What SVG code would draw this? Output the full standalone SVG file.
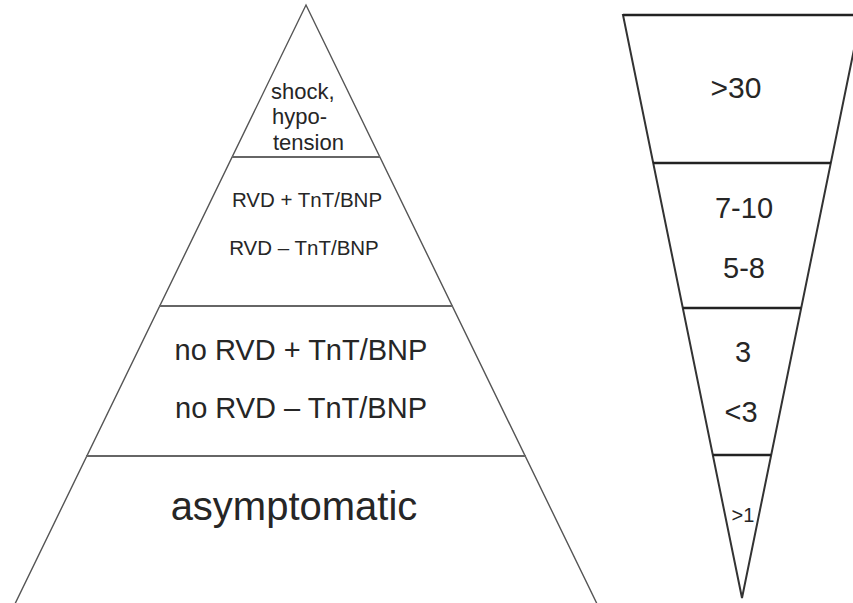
<svg xmlns="http://www.w3.org/2000/svg" width="853" height="603" viewBox="0 0 853 603">
<style>
.outline{fill:none;stroke:#555;stroke-width:1.4;stroke-linejoin:miter}
.sep{stroke:#666;stroke-width:2.2;fill:none}
.outline2{fill:none;stroke:#333;stroke-width:2}
.sep2{stroke:#222;stroke-width:2.4;fill:none}
text{font-family:"Liberation Sans",Arial,Helvetica,sans-serif;fill:#262626}
.m{text-anchor:middle}
</style>
<rect width="853" height="603" fill="#fff"/>
<g id="pyramid-left">
<polyline class="outline" points="12,610 306,5 600,610"/>
<line class="sep" x1="232" y1="157" x2="380" y2="157"/>
<line class="sep" x1="159" y1="306" x2="453" y2="306"/>
<line class="sep" x1="86" y1="456" x2="526" y2="456"/>
</g>
<g id="tier-shock">
<text x="271" y="99" font-size="22">shock,</text>
<text x="272" y="124" font-size="22">hypo-</text>
<text x="273" y="150" font-size="22">tension</text>
</g>
<g id="tier-rvd">
<text class="m" x="307" y="207" font-size="20.5">RVD + TnT/BNP</text>
<text class="m" x="304" y="255" font-size="20.5">RVD – TnT/BNP</text>
</g>
<g id="tier-norvd">
<text class="m" x="301" y="360" font-size="29">no RVD + TnT/BNP</text>
<text class="m" x="301" y="418" font-size="29">no RVD – TnT/BNP</text>
</g>
<g id="tier-asymptomatic">
<text class="m" x="294" y="520" font-size="40">asymptomatic</text>
</g>
<g id="pyramid-right">
<polygon class="outline2" points="623,15 861,15 742,598"/>
<line class="sep2" x1="623" y1="15" x2="853" y2="15"/>
<line class="sep2" x1="653" y1="163" x2="831" y2="163"/>
<line class="sep2" x1="683" y1="308" x2="801" y2="308"/>
<line class="sep2" x1="713" y1="455" x2="771" y2="455"/>
</g>
<g id="values">
<text class="m" x="736" y="98" font-size="30">&gt;30</text>
<text class="m" x="744" y="218" font-size="29">7-10</text>
<text class="m" x="744" y="278" font-size="29">5-8</text>
<text class="m" x="743" y="362" font-size="29">3</text>
<text class="m" x="741" y="422" font-size="29">&lt;3</text>
<text class="m" x="743" y="522" font-size="20">&gt;1</text>
</g>
</svg>
